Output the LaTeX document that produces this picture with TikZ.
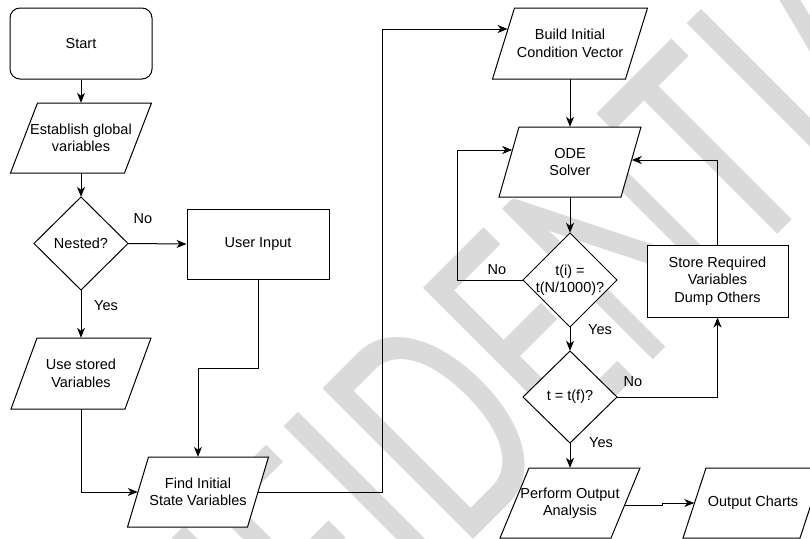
\documentclass[tikz,border=0pt]{standalone}
\usepackage{fontspec}
\usepackage{graphicx}
\setmainfont{Liberation Sans}
\newfontfamily\wmfont{Carlito}
\usetikzlibrary{arrows.meta,calc}
\definecolor{wmgray}{RGB}{218,218,218}
\tikzset{
  shp/.style={draw=black, line width=1pt, fill=white},
  txt/.style={inner sep=0pt, align=center, font=\fontsize{14.5}{17.5}\selectfont},
  conn/.style={draw=black, line width=1pt, -{Stealth[length=10pt,width=8pt,inset=3pt]}},
  lbl/.style={inner sep=0pt, font=\fontsize{14.5}{17.5}\selectfont},
}
% name, cx, cy, w, h, slant, text
\newcommand{\parashape}[7]{%
  \draw[shp] ({#2-#4/2+#6/2},{#3-#5/2}) -- ({#2+#4/2+#6/2},{#3-#5/2})
    -- ({#2+#4/2-#6/2},{#3+#5/2}) -- ({#2-#4/2-#6/2},{#3+#5/2}) -- cycle;
  \node[txt, minimum width=#4, minimum height=#5] (#1) at (#2,#3) {#7};}
% name, cx, cy, w, h, text
\newcommand{\diamondshape}[6]{%
  \draw[shp] (#2,{#3-#5/2}) -- ({#2+#4/2},#3) -- (#2,{#3+#5/2}) -- ({#2-#4/2},#3) -- cycle;
  \node[txt, minimum width=#4, minimum height=#5] (#1) at (#2,#3) {#6};}
\begin{document}
\begin{tikzpicture}[x=1pt,y=-1pt]
\useasboundingbox (0,0) rectangle (810,538);
\clip (0,0) rectangle (810,538);
\fill[white] (0,0) rectangle (810,538);
% watermark
\node[rotate=45, anchor=base, inner sep=0pt, text=wmgray,
      font=\wmfont\fontsize{332}{332}\selectfont] (wm) at (538.8,473.8)
      {\scalebox{0.69}[1]{CONFIDENTIAL}};
% shapes
\node[shp, txt, rounded corners=10pt, minimum width=142, minimum height=71] (start) at (81,43.5) {Start};
\parashape{estab}{81}{138}{114}{70}{27}{Establish global\\variables}
\diamondshape{nested}{81}{243.5}{94}{93}{Nested?}
\node[shp, txt, minimum width=142, minimum height=70] (user) at (258,244) {User Input};
\parashape{used}{81}{373.5}{114}{71}{26}{Use stored\\Variables}
\parashape{find}{198}{492}{120}{70}{21}{Find Initial\\State Variables}
\parashape{build}{570}{43.5}{133}{71}{22}{Build Initial\\Condition Vector}
\parashape{ode}{570}{162}{122}{70}{20}{ODE\\Solver}
\diamondshape{ti}{570}{280}{94}{94}{t(i) =\\t(N/1000)?}
\node[shp, txt, minimum width=141, minimum height=72] (store) at (717.5,281) {Store Required\\Variables\\Dump Others};
\diamondshape{tf}{570}{397}{94}{92}{t = t(f)?}
\parashape{perf}{570}{503}{111}{70}{29}{Perform Output\\Analysis}
\parashape{outc}{753}{503}{117}{70}{23}{Output Charts}
% connectors
\draw[conn] (start.south) -- (estab.north);
\draw[conn] (estab.south) -- (nested.north);
\draw[conn] (nested.east) -- (user.west);
\draw[conn] (nested.south) -- (used.north);
\draw[conn] (user.south) -- ++(0,89) -| (find.north);
\draw[conn] (used.south) |- (find.west);
\draw[conn] (find.east) -- ++(124,0) |- ($(build.west)+(4.3,-14.5)$);
\draw[conn] (build.south) -- (ode.north);
\draw[conn] (ode.south) -- (ti.north);
\draw[conn] (ti.west) -- ++(-65,0) |- ($(ode.west)+(3.4,-12)$);
\draw[conn] (ti.south) -- (tf.north);
\draw[conn] (tf.east) -| (store.south);
\draw[conn] (store.north) |- ($(ode.east)+(0.6,-2)$);
\draw[conn] (tf.south) -- (perf.north);
\draw[conn] ($(perf.east)+(-0.8,2)$) -- ++(38,0) |- (outc.west);
% labels
\node[lbl] (lno1) at (143,219) {No};
\node[lbl] (lyes1) at (106,306) {Yes};
\node[lbl] (lno2) at (497,270) {No};
\node[lbl] (lyes2) at (600,330) {Yes};
\node[lbl] (lno3) at (633,382) {No};
\node[lbl] (lyes3) at (601,443) {Yes};
\end{tikzpicture}
\end{document}
